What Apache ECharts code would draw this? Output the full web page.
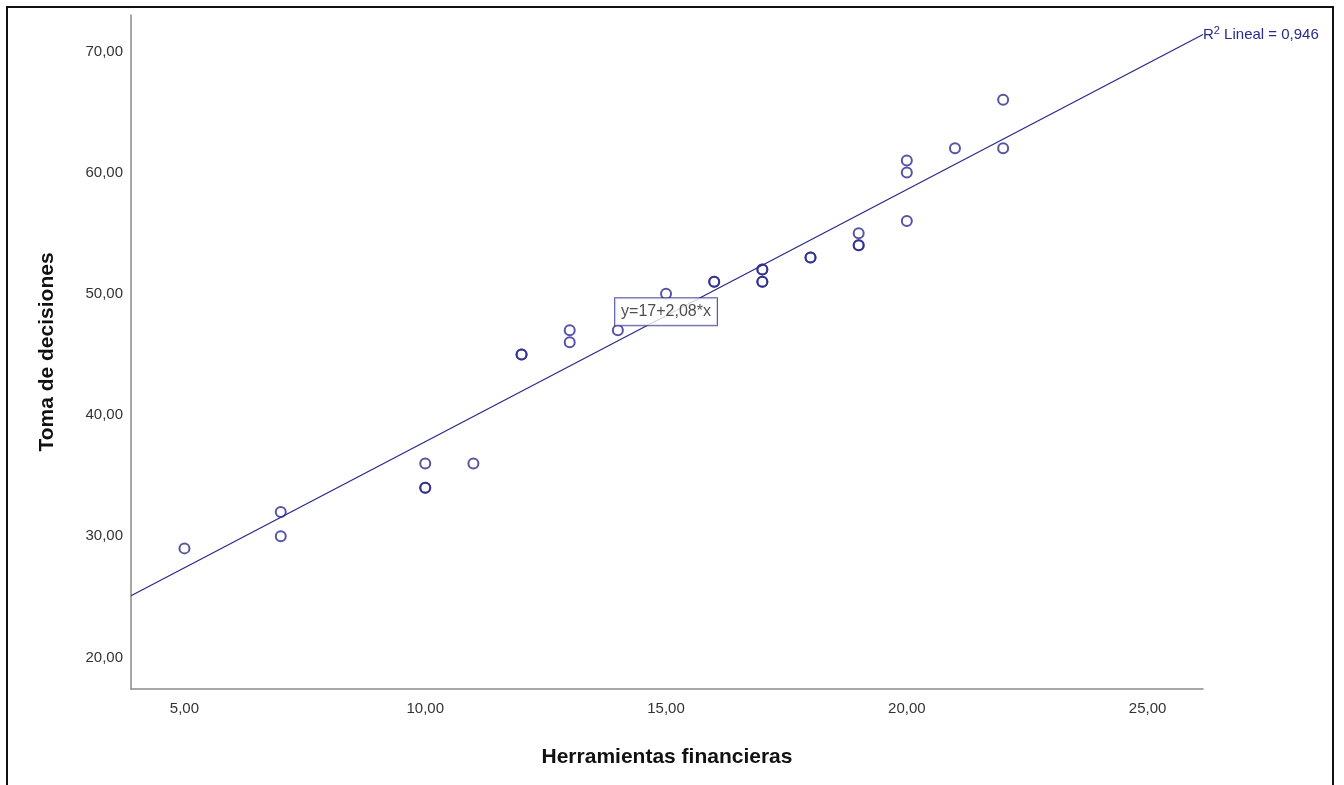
<!DOCTYPE html>
<html>
<head>
<meta charset="utf-8">
<title>Herramientas financieras vs Toma de decisiones</title>
<script src="https://cdn.jsdelivr.net/npm/echarts@6/dist/echarts.min.js"></script>
<style>
  html, body { margin: 0; padding: 0; background: #fff; }
  #chart { width: 1344px; height: 785px; }
</style>
</head>
<body>
<div id="chart"></div>
<script>
// puntos observados (x = herramientas financieras, y = toma de decisiones)
const herramientas = [5, 7, 7, 10, 10, 10, 11, 12, 12, 13, 13, 14, 15, 16, 16, 17, 17, 17, 17, 18, 18, 19, 19, 19, 20, 20, 20, 21, 22, 22];
const decisiones   = [29, 32, 30, 36, 34, 34, 36, 45, 45, 47, 46, 47, 50, 51, 51, 52, 52, 51, 51, 53, 53, 55, 54, 54, 61, 60, 56, 62, 66, 62];

// recta de ajuste y = 17 + 2,08*x
const intercepto = 17;
const pendiente = 2.08;
const r2Texto = '0,946';

const xTicks = [5, 10, 15, 20, 25];
const yTicks = [20, 30, 40, 50, 60, 70];

const xMin = 3.89, xMax = 26.15;
const yMin = 17.4, yMax = 73;

const navy = '#2a2a8c';
const fmt = (v) => v.toFixed(2).replace('.', ',');

const puntos = herramientas.map((x, i) => [x, decisiones[i]]);
const recta = [
  [xMin, intercepto + pendiente * xMin],
  [xMax, intercepto + pendiente * xMax],
];
const xEtiqueta = 15;
const etiquetaEcuacion = [[xEtiqueta, intercepto + pendiente * xEtiqueta]];

const chart = echarts.init(document.getElementById('chart'));
chart.setOption({
  animation: false,
  textStyle: { fontFamily: 'Liberation Sans, Arial, sans-serif' },
  graphic: [{
    type: 'rect',
    shape: { x: 7, y: 7, width: 1326, height: 800 },
    style: { fill: 'none', stroke: '#111', lineWidth: 2 },
    z: 100
  }],
  grid: { left: 131, right: 141, top: 15, bottom: 96 },
  xAxis: {
    type: 'value',
    min: xMin, max: xMax,
    name: 'Herramientas financieras',
    nameLocation: 'middle',
    nameGap: 58,
    nameTextStyle: { fontSize: 21, fontWeight: 'bold', color: '#111' },
    axisLine: { show: true, onZero: false, lineStyle: { color: '#8a8a8a', width: 1.5 } },
    axisTick: { show: false },
    splitLine: { show: false },
    axisLabel: {
      color: '#333', fontSize: 15, margin: 12,
      customValues: xTicks,
      formatter: fmt
    }
  },
  yAxis: {
    type: 'value',
    min: yMin, max: yMax,
    name: 'Toma de decisiones',
    nameLocation: 'middle',
    nameGap: 73,
    nameTextStyle: { fontSize: 21, fontWeight: 'bold', color: '#111' },
    axisLine: { show: true, onZero: false, lineStyle: { color: '#8a8a8a', width: 1.5 } },
    axisTick: { show: false },
    splitLine: { show: false },
    axisLabel: {
      color: '#333', fontSize: 15, margin: 8,
      customValues: yTicks,
      formatter: fmt
    }
  },
  series: [
    {
      type: 'line',
      data: recta,
      symbol: 'none',
      lineStyle: { color: navy, width: 1.3 },
      z: 2,
      endLabel: {
        show: true,
        distance: 0,
        formatter: () => '{r|R}{s|2}{r| Lineal = ' + r2Texto + '}',
        rich: {
          r: { fontSize: 15, color: navy },
          s: { fontSize: 11, color: navy, verticalAlign: 'top', padding: [0, 0, 7, 0] }
        }
      }
    },
    {
      type: 'scatter',
      data: puntos,
      symbol: 'circle',
      symbolSize: 10,
      itemStyle: { color: 'rgba(255,255,255,0)', borderColor: navy, borderWidth: 2 },
      z: 3
    },
    {
      type: 'scatter',
      data: etiquetaEcuacion,
      symbolSize: 0,
      z: 5,
      label: {
        show: true,
        position: 'inside',
        formatter: 'y=17+2,08*x',
        color: '#222',
        fontSize: 16,
        backgroundColor: '#fff',
        borderColor: navy,
        borderWidth: 1,
        padding: [6, 6, 5, 6],
        offset: [0, -4]
      }
    }
  ]
});
</script>
</body>
</html>
